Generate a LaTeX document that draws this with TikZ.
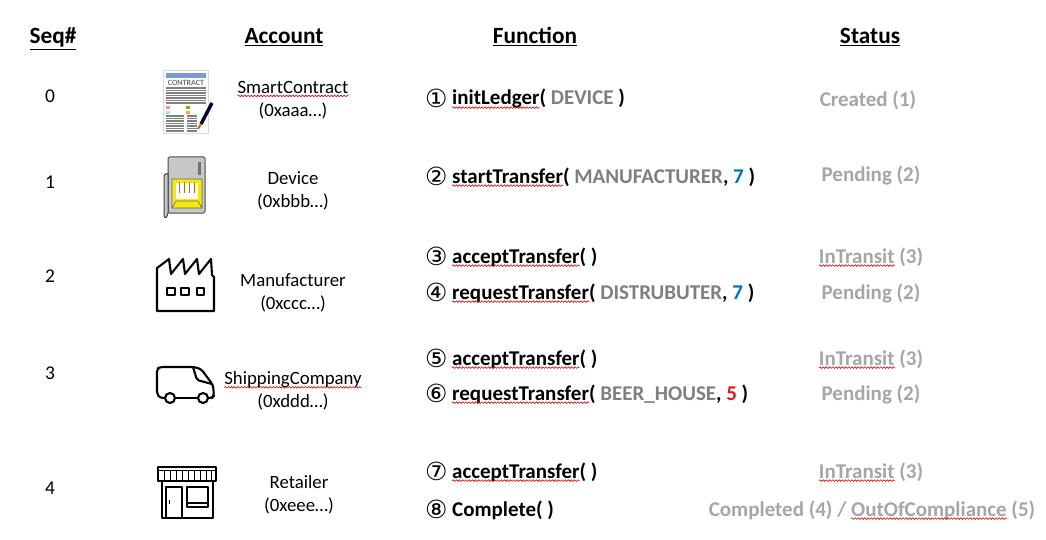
\documentclass[tikz,border=0pt]{standalone}
\usepackage{fontspec}
\setmainfont{Carlito}
\newfontfamily\circfont{DejaVu Sans}
\usetikzlibrary{decorations.pathmorphing}
\definecolor{argcol}{RGB}{127,127,127}
\definecolor{statcol}{RGB}{166,166,166}
\definecolor{bluenum}{RGB}{0,112,192}
\definecolor{rednum}{RGB}{230,20,20}
\tikzset{
  wavy/.style={red!85!black,line width=0.6pt,decorate,decoration={snake,amplitude=0.8pt,segment length=3.2pt}},
  headtxt/.style={font=\fontsize{23.3}{26}\selectfont\bfseries,anchor=base},
  seqtxt/.style={font=\fontsize{19.5}{22}\selectfont,anchor=center},
  acctxt/.style={font=\fontsize{18.8}{23}\selectfont,align=center,anchor=center,inner sep=0pt},
  functxt/.style={font=\fontsize{21}{24}\selectfont\bfseries,anchor=base west,inner sep=0pt},
  numtxt/.style={font=\fontsize{25}{26}\selectfont\circfont,anchor=base west,inner sep=0pt,yshift=-2.5pt},
  stattxt/.style={font=\fontsize{21}{24}\selectfont\bfseries,text=statcol,anchor=base,inner sep=0pt},
  icon/.style={line width=2.1pt,line join=round,black},
  iconthin/.style={line width=1.1pt,line join=round,black}
}
\newcommand{\squig}[1]{\setbox0\hbox{#1}\copy0\tikz[overlay]\draw[wavy] (-\wd0,-2.6pt) -- (0pt,-2.6pt);}
\newcommand{\argtxt}[1]{\textcolor{argcol}{#1}}
\begin{document}
\begin{tikzpicture}[x=1pt,y=-1pt]
\useasboundingbox (0,0) rectangle (1046,540);
\fill[white] (0,0) rectangle (1046,540);
% headers
\node[headtxt] (headseq) at (53,44) {\underline{Seq\#}};
\node[headtxt] (headacc) at (284,44) {\underline{Account}};
\node[headtxt] (headfun) at (535,44) {\underline{Function}};
\node[headtxt] (headsta) at (870,44) {\underline{Status}};
% sequence numbers
\node[seqtxt] (seq0) at (50,96) {0};
\node[seqtxt] (seq1) at (50,182) {1};
\node[seqtxt] (seq2) at (50,276) {2};
\node[seqtxt] (seq3) at (50,373) {3};
\node[seqtxt] (seq4) at (50,488) {4};
% accounts
\node[acctxt] (accsmart) at (293,100) {\squig{SmartContract}\\(0xaaa…)};
\node[acctxt] (accdev) at (293,191) {Device\\(0xbbb…)};
\node[acctxt] (accman) at (293,293) {Manufacturer\\(0xccc…)};
\node[acctxt] (accship) at (293,391) {\squig{ShippingCompany}\\(0xddd…)};
\node[acctxt] (accret) at (299,495) {Retailer\\(0xeee…)};
% functions
\node[numtxt] (n1) at (425,105) {①};
\node[functxt] (f1) at (452,105) {\squig{initLedger}( \argtxt{DEVICE} )};
\node[numtxt] (n2) at (425,183) {②};
\node[functxt] (f2) at (452,183) {\squig{startTransfer}( \argtxt{MANUFACTURER}, \textcolor{bluenum}{7} )};
\node[numtxt] (n3) at (425,263) {③};
\node[functxt] (f3) at (452,263) {\squig{acceptTransfer}( )};
\node[numtxt] (n4) at (425,299) {④};
\node[functxt] (f4) at (452,299) {\squig{requestTransfer}( \argtxt{DISTRUBUTER}, \textcolor{bluenum}{7} )};
\node[numtxt] (n5) at (425,365) {⑤};
\node[functxt] (f5) at (452,365) {\squig{acceptTransfer}( )};
\node[numtxt] (n6) at (425,400) {⑥};
\node[functxt] (f6) at (452,400) {\squig{requestTransfer}( \argtxt{BEER\_HOUSE}, \textcolor{rednum}{5} )};
\node[numtxt] (n7) at (425,478) {⑦};
\node[functxt] (f7) at (452,478) {\squig{acceptTransfer}( )};
\node[numtxt] (n8) at (425,516) {⑧};
\node[functxt] (f8) at (452,516) {Complete( )};
% status
\node[stattxt] (s1) at (868,107) {Created (1)};
\node[stattxt] (s2) at (871,182) {Pending (2)};
\node[stattxt] (s3) at (871,263) {\squig{InTransit} (3)};
\node[stattxt] (s4) at (871,299) {Pending (2)};
\node[stattxt] (s5) at (871,365) {\squig{InTransit} (3)};
\node[stattxt] (s6) at (871,400) {Pending (2)};
\node[stattxt] (s7) at (871,478) {\squig{InTransit} (3)};
\node[stattxt] (s8) at (872,516) {Completed (4) / \squig{OutOfCompliance} (5)};
% contract icon
\draw[black!15,fill=white,line width=1pt] (163,71) rectangle (208,134);
\fill[cyan!45!blue!55] (166,73) rectangle (206,78);
\node[font=\fontsize{8}{9}\selectfont\bfseries,text=black!55,inner sep=0pt] (contitle) at (186,83) {CONTRACT};
\foreach \y in {88,90.5,93,95.5,98,100.5,103} \draw[black!50,line width=1.3pt] (166,\y) -- (206,\y);
\fill[red!40] (166,106) rectangle (170,109);
\fill[cyan!40] (166,111) rectangle (170,114);
\fill[lime!70!black] (186,106) rectangle (190,109);
\fill[orange!70] (186,111) rectangle (190,114);
\foreach \y in {116,118.5,121,123.5,126,128.5,131} {
  \draw[black!50,line width=1.3pt] (166,\y) -- (184,\y);
  \draw[black!50,line width=1.3pt] (187,\y) -- (197,\y);
}
\draw[line width=3.4pt,black!80!blue] (212,103) -- (201,124);
\draw[line width=2pt,orange!80!black] (201,124) -- (198,129);
% device icon
\draw[black!70,fill=black!22,line width=1pt,rounded corners=1.5pt] (168,157) rectangle (205,213);
\fill[yellow!95!black] (172,179) rectangle (202,208);
\fill[white] (176,183) rectangle (198,199);
\foreach \x in {179,184,189,194} \draw[orange!80!black,line width=0.9pt] (\x,182) -- (\x,193);
\draw[black!60,line width=0.6pt] (172,179) rectangle (202,208) (172,208) -- (176,201) -- (198,201) -- (202,208);
\fill[black!55] (197.5,162) rectangle (200.5,175);
\draw[black!75,fill=black!22,line width=1pt,rounded corners=1pt] (168,173) -- (164,175) -- (164,217) -- (166,218) -- (168,214) -- cycle;
% factory icon
\draw[icon] (157,311) -- (157,268) -- (169,259) -- (171,274) -- (183,259) -- (185,274) -- (197,259) -- (199,274) -- (211,259) -- (212,275) -- (214,277) -- (214,311) -- cycle;
\draw[icon,line width=1.8pt] (167,288) rectangle (175,295) (181,288) rectangle (189,295) (197,288) rectangle (204,295);
% van icon
\draw[icon,rounded corners=3pt] (165,398) -- (160,398) -- (157,394) -- (157,369) -- (160,367) -- (194,367) -- (201,369) -- (213,385) -- (214,396) -- (212,398) -- (208,398);
\draw[icon] (175,398) -- (198,398);
\draw[icon] (170,398) circle[radius=5pt] (203,398) circle[radius=5pt];
\draw[icon,rounded corners=2pt] (193,367) -- (197,380) -- (212,384);
% retailer icon
\draw[iconthin,line width=1.2pt] (158,467) rectangle (216,481);
\draw[iconthin,line width=0.8pt] (158,470) -- (216,470);
\foreach \x in {164,170,176,182,188,194,200,206,211} \draw[iconthin,line width=0.8pt] (\x,470) -- (\x,481);
\draw[iconthin,line width=1.2pt] (162,481) -- (162,518) -- (213,518) -- (213,481);
\draw[iconthin,line width=1.2pt] (166,518) -- (166,487) -- (182,487) -- (182,518);
\draw[iconthin,line width=1pt] (169,500) -- (169,504);
\draw[iconthin,line width=1.2pt] (187,487) rectangle (208,507) (187,503) -- (208,503);
\end{tikzpicture}
\end{document}
